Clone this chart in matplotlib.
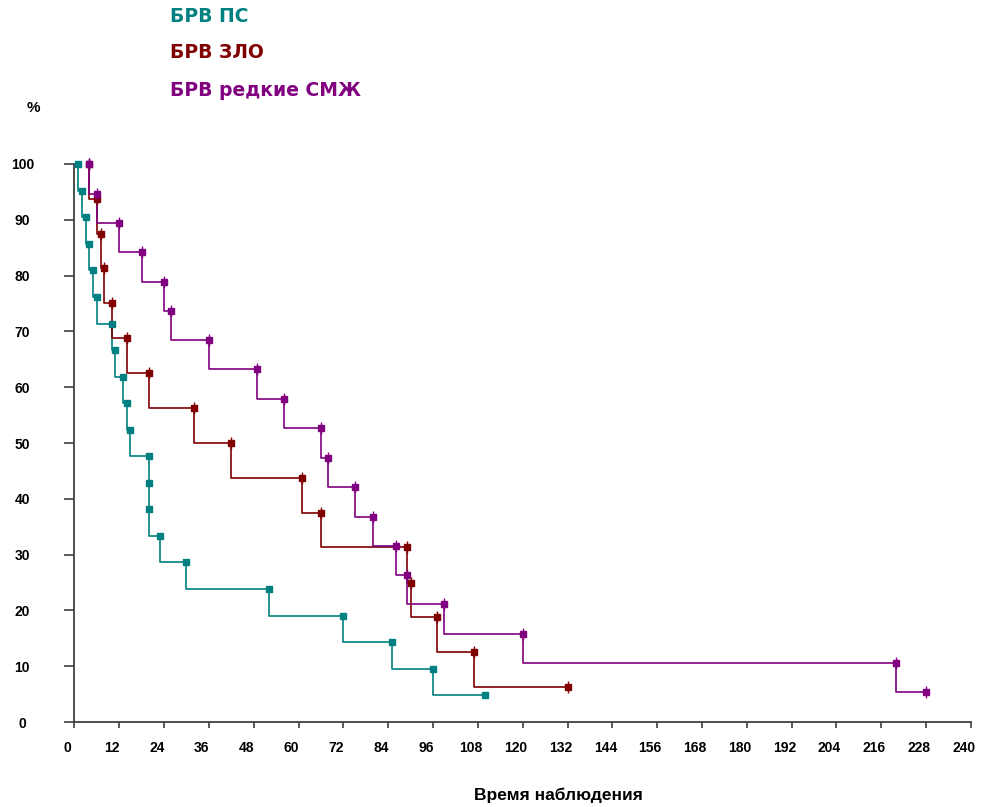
import matplotlib.pyplot as plt
from matplotlib import transforms

plt.rcParams['font.family'] = ['Liberation Sans', 'DejaVu Sans']

# Kaplan-Meier style data (months, %)
ps_time = [1, 2, 3, 4, 5, 6, 10, 11, 13, 14, 15, 20, 20, 20, 23, 30, 52, 72, 85, 96, 110]
ps_surv = [100, 95.2, 90.5, 85.7, 81.0, 76.2, 71.4, 66.7, 61.9, 57.1, 52.4,
           47.6, 42.9, 38.1, 33.3, 28.6, 23.8, 19.0, 14.3, 9.5, 4.8]

zlo_time = [4, 6, 7, 8, 10, 14, 20, 32, 42, 61, 66, 89, 90, 97, 107, 132]
zlo_surv = [100, 93.8, 87.5, 81.3, 75.0, 68.8, 62.5, 56.3, 50.0, 43.8, 37.5,
            31.3, 25.0, 18.8, 12.5, 6.3]

smzh_time = [4, 6, 12, 18, 24, 26, 36, 49, 56, 66, 68, 75, 80, 86, 89, 99, 120, 220, 228]
smzh_surv = [100, 94.7, 89.5, 84.2, 78.9, 73.7, 68.4, 63.2, 57.9, 52.6, 47.4,
             42.1, 36.8, 31.6, 26.3, 21.1, 15.8, 10.5, 5.3]

x_ticks = list(range(0, 241, 12))
y_ticks = list(range(0, 101, 10))

teal = '#008080'
darkred = '#800000'
purple = '#800080'

fig = plt.figure(figsize=(9.81, 8.07), dpi=100)
ax = fig.add_axes([0.0758, 0.1053, 0.9140, 0.6915])

series = [
    (ps_time, ps_surv, teal, False),
    (zlo_time, zlo_surv, darkred, True),
    (smzh_time, smzh_surv, purple, True),
]
for t, s, c, ticks in series:
    ax.step(t, s, where='pre', color=c, lw=1.2, clip_on=False)
    ax.plot(t, s, ls='none', marker='s', ms=4.6, color=c, clip_on=False, zorder=3)
    if ticks:
        ax.plot(t, s, ls='none', marker='|', ms=8, mew=1.0, color=c, clip_on=False, zorder=3)

ax.set_xlim(0, 240)
ax.set_ylim(0, 100)
ax.set_xticks(x_ticks)
ax.set_yticks(y_ticks)
ax.set_xticklabels([str(v) for v in x_ticks], fontsize=10, fontweight='bold')
ax.set_yticklabels([str(v) for v in y_ticks], fontsize=10, fontweight='bold')

for sp in ['top', 'right']:
    ax.spines[sp].set_visible(False)
for sp in ['left', 'bottom']:
    ax.spines[sp].set_color('#404040')
    ax.spines[sp].set_linewidth(1.3)

ax.tick_params(axis='x', direction='out', length=4, width=1.2, color='#404040', pad=10)
ax.tick_params(axis='y', direction='out', length=7.5, width=1.2, color='#404040', pad=30)
for lbl in ax.get_yticklabels():
    lbl.set_horizontalalignment('center')
# x tick labels sit slightly left of their ticks in the original
shift = transforms.ScaledTranslation(-7 / 100, 0, fig.dpi_scale_trans)
for lbl in ax.get_xticklabels():
    lbl.set_transform(lbl.get_transform() + shift)

fig.text(33 / 981, 1 - 108 / 807, '%', fontsize=11, fontweight='bold', ha='center', va='center')
fig.text(558 / 981, 1 - 795 / 807, 'Время наблюдения', fontsize=12.5, fontweight='bold',
         ha='center', va='center')

legend_font = ['DejaVu Sans']
fig.text(170 / 981, 1 - 16 / 807, 'БРВ ПС', color=teal, fontsize=13.5, fontweight='bold',
         va='center', family=legend_font)
fig.text(170 / 981, 1 - 52 / 807, 'БРВ ЗЛО', color=darkred, fontsize=13.5, fontweight='bold',
         va='center', family=legend_font)
fig.text(170 / 981, 1 - 90 / 807, 'БРВ редкие СМЖ', color=purple, fontsize=13.5, fontweight='bold',
         va='center', family=legend_font)

fig.savefig('out.png', dpi=100)
